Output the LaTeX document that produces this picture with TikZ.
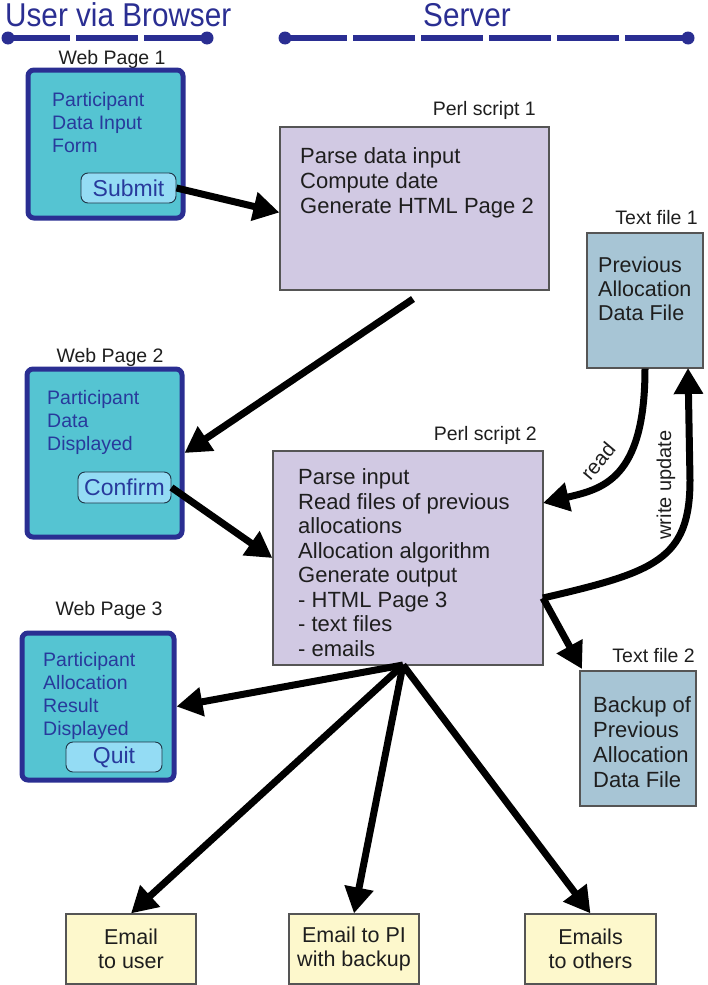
\documentclass[tikz,border=0pt]{standalone}
\usepackage{fontspec}
\setmainfont{Liberation Sans}
\newfontfamily\titlefont[FakeStretch=0.9]{Liberation Sans}
\usetikzlibrary{arrows.meta}
\definecolor{navy}{RGB}{42,46,146}
\definecolor{webfill}{RGB}{85,196,210}
\definecolor{webtext}{RGB}{40,58,156}
\definecolor{btnfill}{RGB}{148,220,244}
\definecolor{btnline}{RGB}{30,52,70}
\definecolor{perlfill}{RGB}{209,201,227}
\definecolor{filefill}{RGB}{167,197,213}
\definecolor{mailfill}{RGB}{253,248,204}
\definecolor{boxline}{RGB}{85,85,85}
\definecolor{ink}{RGB}{30,30,30}
\tikzset{
  webbox/.style={draw=navy, line width=5pt, rounded corners=6pt, fill=webfill, inner sep=0pt},
  btnbox/.style={draw=btnline, line width=0.9pt, rounded corners=7pt, fill=btnfill, inner sep=0pt,
     text=webtext, font=\fontsize{23}{26}\selectfont},
  webtxt/.style={anchor=base west, inner sep=0pt, align=left, text=webtext, font=\fontsize{19.5}{22.7}\selectfont},
  perlbox/.style={draw=boxline, line width=1.2pt, fill=perlfill, inner sep=0pt},
  filebox/.style={draw=boxline, line width=1.2pt, fill=filefill, inner sep=0pt},
  mailbox/.style={draw=boxline, line width=1.2pt, fill=mailfill, inner sep=0pt, align=center,
     text=ink, font=\fontsize{21.5}{24}\selectfont},
  boxtxt/.style={anchor=base west, inner sep=0pt, align=left, text=ink},
  lbl/.style={inner sep=0pt, text=ink, font=\fontsize{19.5}{22}\selectfont},
  title/.style={inner sep=0pt, anchor=base west, text=navy, font=\titlefont\fontsize{33}{36}\selectfont},
  navyline/.style={draw=navy, line width=6pt, dash pattern=on 61.5pt off 6.5pt},
  flow/.style={draw=black, line width=7pt, -{Triangle[length=26pt,width=28pt]}},
}
\begin{document}
\begin{tikzpicture}[x=1pt,y=-1pt]
\useasboundingbox (0,0) rectangle (708,985);

% titles
\node[title] (usertitle) at (5,27) {User via Browser};
\node[title] (servertitle) at (423,27) {Server};
\coordinate (la) at (8,38);
\coordinate (lb) at (207,38);
\coordinate (ra) at (285,38);
\coordinate (rb) at (688,38);
\draw[navyline] (la) -- (lb);
\draw[navyline] (ra) -- (rb);
\foreach \p in {la,lb,ra,rb} \fill[navy] (\p) circle (6.5pt);

% Web page 1
\node[lbl, anchor=base] (wp1lbl) at (112,64) {Web Page 1};
\node[webbox, minimum width=155pt, minimum height=148pt] (webone) at (105.5,144) {};
\node[webtxt] (webonetxt) at (52,152) {Participant\\Data Input\\Form};
\node[btnbox, minimum width=95pt, minimum height=30pt] (submit) at (128.5,188) {Submit};

% Web page 2
\node[lbl, anchor=base] (wp2lbl) at (110,362) {Web Page 2};
\node[webbox, minimum width=155pt, minimum height=168pt] (webtwo) at (104.5,453) {};
\node[webtxt] (webtwotxt) at (47,450) {Participant\\Data\\Displayed};
\node[btnbox, minimum width=93pt, minimum height=31pt] (confirm) at (124.5,487.5) {Confirm};

% Web page 3
\node[lbl, anchor=base] (wp3lbl) at (109,615) {Web Page 3};
\node[webbox, minimum width=152pt, minimum height=147pt] (webthree) at (98,706.5) {};
\node[webtxt] (webthreetxt) at (43,735) {Participant\\Allocation\\Result\\Displayed};
\node[btnbox, minimum width=96pt, minimum height=30pt] (quit) at (114,757) {Quit};

% Perl script 1
\node[lbl, anchor=base east] (p1lbl) at (536,115) {Perl script 1};
\node[perlbox, minimum width=269pt, minimum height=163pt] (perlone) at (414.5,208.5) {};
\node[boxtxt, font=\fontsize{22}{25}\selectfont] (perlonetxt) at (300,213)
  {Parse data input\\Compute date\\Generate HTML Page 2};

% Perl script 2
\node[lbl, anchor=base east] (p2lbl) at (537,440) {Perl script 2};
\node[perlbox, minimum width=270pt, minimum height=214pt] (perltwo) at (408,558) {};
\node[boxtxt, font=\fontsize{22}{24.5}\selectfont] (perltwotxt) at (298,656)
  {Parse input\\Read files of previous\\allocations\\Allocation algorithm\\Generate output\\- HTML Page 3\\- text files\\- emails};

% Text file 1
\node[lbl, anchor=base east] (tf1lbl) at (698,224) {Text file 1};
\node[filebox, minimum width=116pt, minimum height=135pt] (tfone) at (645,300.5) {};
\node[boxtxt, font=\fontsize{21.5}{24}\selectfont] (tfonetxt) at (598,320)
  {Previous\\Allocation\\Data File};

% Text file 2
\node[lbl, anchor=base east] (tf2lbl) at (695,662) {Text file 2};
\node[filebox, minimum width=116pt, minimum height=135pt] (tftwo) at (638,738.5) {};
\node[boxtxt, font=\fontsize{22}{25}\selectfont] (tftwotxt) at (593,787)
  {Backup of\\Previous\\Allocation\\Data File};

% Emails
\node[mailbox, minimum width=130pt, minimum height=70pt] (mailone) at (131,949) {Email\\to user};
\node[mailbox, minimum width=130pt, minimum height=70pt] (mailtwo) at (354,949) {Email to PI\\with backup};
\node[mailbox, minimum width=131pt, minimum height=70pt] (mailthree) at (590.5,949) {Emails\\to others};

% connectors
\draw[flow] (submit.east) -- ([yshift=-4pt]perlone.west);
\coordinate (p1out) at (413,299);
\draw[flow] (p1out) -- (webtwo.east);
\draw[flow] (confirm.east) -- (perltwo.west);

\coordinate (readend) at (543,503);
\draw[flow] (tfone.south) .. controls (645,480) and (602,489) .. (readend);
\node[inner sep=0pt, text=ink, font=\fontsize{20.5}{22}\selectfont, rotate=50] (readlbl) at (598,461) {read};

\coordinate (writestart) at (543,598);
\coordinate (writeend) at (688,368);
\draw[flow] (writestart) .. controls (655,572) and (690,560) .. (690,480) -- (writeend);
\node[inner sep=0pt, text=ink, font=\fontsize{20}{22}\selectfont, rotate=90] (writelbl) at (666,485) {write update};

\coordinate (tf2in) at (582,669);
\draw[flow] (writestart) -- (tf2in);

\coordinate (fan) at (403,665);
\draw[flow] (fan) -- (webthree.east);
\draw[flow] (fan) -- (mailone.north);
\draw[flow] (fan) -- (mailtwo.north);
\draw[flow] (fan) -- (mailthree.north);
\end{tikzpicture}
\end{document}
